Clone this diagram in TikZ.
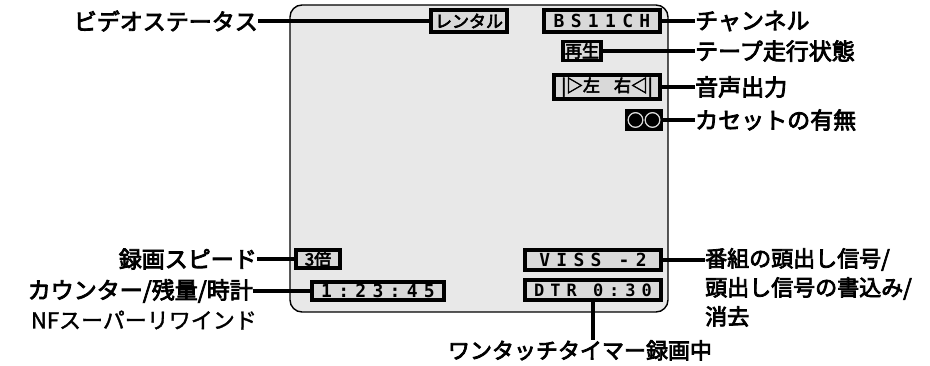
\documentclass[tikz,border=0pt]{standalone}
\usepackage{fontspec}
\setmainfont{Noto Sans CJK JP}[AutoFakeBold=3.5]
\newfontfamily\osd{DejaVu Sans Mono}[LetterSpace=35]
\newfontfamily\plainjp{Noto Sans CJK JP}[AutoFakeBold=1.5]
\begin{document}
\begin{tikzpicture}[x=1pt,y=-1pt,
  lbl/.style={inner sep=0pt,font=\fontsize{23}{26}\selectfont\bfseries},
  osdbox/.style={draw=black,line width=3.4pt,fill=gray!30,inner sep=0pt,
     font=\fontsize{17}{18}\selectfont\bfseries,text=black},
  osdtxt/.style={font=\osd\fontsize{18}{18}\selectfont\bfseries},
  conn/.style={line width=3.2pt}]
\useasboundingbox (0,0) rectangle (930,366);
% screen
\draw[line width=1.4pt,fill=gray!18,rounded corners=12pt] (290,5) rectangle (668,312);
% on-screen boxes
\node[osdbox,minimum width=76pt,minimum height=22pt] (rent) at (469,21) {レンタル};
\node[osdbox,osdtxt,minimum width=116pt,minimum height=22pt] (bs) at (602,21) {BS11CH};
\node[osdbox,minimum width=38pt,minimum height=19pt] (play) at (582,51) {再生};
\node[osdbox,minimum width=106pt,minimum height=24pt] (audio) at (607,87) {|▷左\hspace{14pt}右◁|};
\node[osdbox,minimum width=30pt,minimum height=19pt,fill=black,text=gray!30] (cas) at (644,120) {○○};
\node[osdbox,minimum width=44pt,minimum height=18pt] (speed) at (318,259) {3倍};
\node[osdbox,osdtxt,minimum width=132pt,minimum height=18pt] (counter) at (378,291) {1:23:45};
\node[osdbox,osdtxt,minimum width=136pt,minimum height=20pt] (viss) at (593,260) {VISS -2};
\node[osdbox,osdtxt,minimum width=136pt,minimum height=20pt,font=\osd\fontsize{17}{17}\selectfont\bfseries] (dtr) at (593,290) {DTR 0:30};
% labels
\node[lbl,anchor=east] (lvs) at (258,21) {ビデオステータス};
\node[lbl,anchor=west] (lch) at (695,21) {チャンネル};
\node[lbl,anchor=west] (ltape) at (695,51) {テープ走行状態};
\node[lbl,anchor=west] (laudio) at (695,87) {音声出力};
\node[lbl,anchor=west] (lcas) at (695,120) {カセットの有無};
\node[lbl,anchor=east] (lspeed) at (257,259) {録画スピード};
\node[lbl,anchor=east] (lcount) at (253,291) {カウンター/残量/時計};
\node[lbl,anchor=east,font=\fontsize{22}{24}\selectfont\plainjp\bfseries] (lnf) at (257,320) {NFスーパーリワインド};
\node[lbl,anchor=north west,align=left,font=\fontsize{22}{29}\selectfont\bfseries] (lviss) at (705,248) {番組の頭出し信号/\\頭出し信号の書込み/\\消去};
\node[lbl,anchor=north,font=\fontsize{22}{24}\selectfont\bfseries] (lotr) at (580,340) {ワンタッチタイマー録画中};
% connectors
\draw[conn] (lvs.east) -- (rent.west);
\draw[conn] (bs.east) -- (bs.east -| lch.west);
\draw[conn] (play.east) -- (play.east -| ltape.west);
\draw[conn] (audio.east) -- (audio.east -| laudio.west);
\draw[conn] (cas.east) -- (cas.east -| lcas.west);
\draw[conn] (lspeed.east) -- (speed.west);
\draw[conn] (lcount.east) -- (counter.west);
\draw[conn] (viss.east) -- (viss.east -| lviss.west);
\draw[conn] (dtr.south) -- (dtr.south |- lotr.north);
\end{tikzpicture}
\end{document}
